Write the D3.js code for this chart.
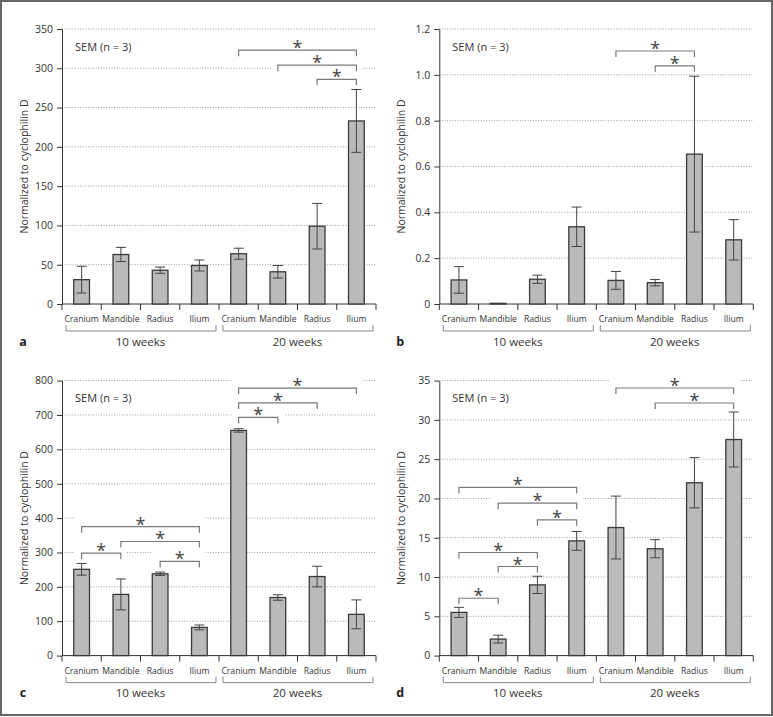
<!DOCTYPE html>
<html>
<head>
<meta charset="utf-8">
<script src="https://cdn.jsdelivr.net/npm/d3@7/dist/d3.min.js"></script>
<style>
  html, body { margin: 0; padding: 0; background: #fff; }
  svg { display: block; font-family: "Open Sans", "Noto Sans", sans-serif; }
</style>
</head>
<body>
<svg id="chart" width="773" height="717"></svg>
<script>
// ---------------- DATA ----------------
const categories = ["Cranium", "Mandible", "Radius", "Ilium", "Cranium", "Mandible", "Radius", "Ilium"];
const groups = ["10 weeks", "20 weeks"];
const panelLetters = ["a", "b", "c", "d"];
const yTitle = "Normalized to cyclophilin D";
const semLabel = "SEM (n = 3)";

// panel a
const meanA = [31, 63, 43, 49, 64, 41, 99, 233];
const errA  = [17, 9, 4, 7, 7, 8, 29, 40];
const ticksA = [0, 50, 100, 150, 200, 250, 300, 350];
const sigA = [[4, 7, 323], [5, 7, 304], [6, 7, 286]];

// panel b
const meanB = [0.105, 0.003, 0.108, 0.337, 0.103, 0.093, 0.654, 0.280];
const errB  = [0.058, 0, 0.018, 0.086, 0.039, 0.014, 0.340, 0.088];
const ticksB = [0, 0.2, 0.4, 0.6, 0.8, 1.0, 1.2];
const sigB = [[4, 6, 1.104], [5, 6, 1.039]];

// panel c
const meanC = [251, 178, 238, 82, 655, 169, 230, 120];
const errC  = [17, 45, 5, 7, 5, 8, 30, 42];
const ticksC = [0, 100, 200, 300, 400, 500, 600, 700, 800];
const sigC = [[4, 7, 778], [4, 6, 735], [4, 5, 693], [0, 3, 375], [1, 3, 332], [0, 1, 298], [2, 3, 274]];

// panel d
const meanD = [5.5, 2.1, 9.0, 14.6, 16.3, 13.6, 22.0, 27.5];
const errD  = [0.64, 0.5, 1.1, 1.2, 4.0, 1.15, 3.2, 3.5];
const ticksD = [0, 5, 10, 15, 20, 25, 30, 35];
const sigD = [[4, 7, 34.06], [5, 7, 32.15], [0, 3, 21.4], [1, 3, 19.4], [2, 3, 17.28], [0, 2, 13.12], [1, 2, 11.34], [0, 1, 7.3]];

const panels = [
  { mean: meanA, err: errA, ticks: ticksA, sig: sigA, fmt: d => String(d) },
  { mean: meanB, err: errB, ticks: ticksB, sig: sigB, fmt: d => d === 0 ? "0" : d3.format(".1f")(d) },
  { mean: meanC, err: errC, ticks: ticksC, sig: sigC, fmt: d => String(d) },
  { mean: meanD, err: errD, ticks: ticksD, sig: sigD, fmt: d => String(d) }
];

// ---------------- LAYOUT ----------------
const svg = d3.select("#chart");
svg.append("rect").attr("x", 0).attr("y", 0).attr("width", 773).attr("height", 717).attr("fill", "#fff");

const colOff = [0, 377.3];
const rowOff = [0, 351.6];

panels.forEach((p, i) => {
  const ox = colOff[i % 2], oy = rowOff[Math.floor(i / 2)];
  const x0 = ox + 62, x1 = ox + 376;
  const yTop = oy + 29, yBot = oy + 304;
  const g = svg.append("g");

  const x = d3.scaleBand().domain(d3.range(categories.length)).range([x0, x1]).paddingInner(0).paddingOuter(0);
  const y = d3.scaleLinear().domain([0, p.ticks[p.ticks.length - 1]]).range([yBot, yTop]);
  const cx = k => x(k) + x.bandwidth() / 2;

  // grid
  g.append("g").selectAll("line").data(p.ticks.filter(t => t !== 0)).join("line")
    .attr("x1", x0).attr("x2", x1)
    .attr("y1", d => y(d)).attr("y2", d => y(d))
    .attr("stroke", "#9a9a9a").attr("stroke-width", 1)
    .attr("stroke-dasharray", "1,1.6");

  // white masks behind significance brackets
  g.append("g").selectAll("rect").data(p.sig).join("rect")
    .attr("x", d => cx(d[0]) - 7)
    .attr("width", d => cx(d[1]) - cx(d[0]) + 13)
    .attr("y", d => y(d[2]) - 13)
    .attr("height", 21)
    .attr("fill", "#fff");

  // y axis
  const yAxis = d3.axisLeft(y).tickValues(p.ticks).tickSize(5).tickSizeOuter(0).tickPadding(4).tickFormat(p.fmt);
  const ya = g.append("g").attr("transform", `translate(${x0},0)`).call(yAxis);
  ya.select(".domain").attr("stroke", "#333").attr("stroke-width", 1);
  ya.selectAll(".tick line").attr("stroke", "#333");
  ya.selectAll(".tick text").attr("fill", "#333").attr("font-size", 10.5).attr("font-family", "Open Sans, sans-serif");

  // x axis line + boundary ticks
  const bounds = d3.range(categories.length).map(k => x(k)).concat([x1]);
  g.append("line").attr("x1", x0).attr("x2", x1).attr("y1", yBot).attr("y2", yBot).attr("stroke", "#333");
  g.append("g").selectAll("line").data(bounds).join("line")
    .attr("x1", d => d).attr("x2", d => d).attr("y1", yBot).attr("y2", yBot + 6)
    .attr("stroke", "#333");

  // category labels
  g.append("g").selectAll("text").data(categories).join("text")
    .attr("x", (d, k) => cx(k)).attr("y", yBot + 15).attr("dy", "0.35em")
    .attr("text-anchor", "middle").attr("font-size", 8.6).attr("fill", "#333")
    .text(d => d);

  // group brackets and labels
  groups.forEach((gl, gi) => {
    const gx0 = x(gi * 4) + 4, gx1 = x(gi * 4 + 3) + x.bandwidth() - 3;
    g.append("path").attr("d", `M${gx0},${yBot + 21}V${yBot + 27}H${gx1}V${yBot + 21}`)
      .attr("fill", "none").attr("stroke", "#888").attr("stroke-width", 1);
    g.append("text").attr("x", (x(gi * 4) + x(gi * 4 + 3) + x.bandwidth()) / 2).attr("y", yBot + 37.5)
      .attr("dy", "0.35em").attr("text-anchor", "middle").attr("font-size", 11.5).attr("fill", "#333").text(gl);
  });

  // panel letter
  g.append("text").attr("x", ox + 23).attr("y", yBot + 37.5).attr("dy", "0.35em")
    .attr("text-anchor", "middle").attr("font-size", 12.5).attr("font-weight", "bold").attr("fill", "#222")
    .text(panelLetters[i]);

  // y title
  g.append("text").attr("transform", `translate(${ox + 24},${(yTop + yBot) / 2}) rotate(-90)`)
    .attr("dy", "0.35em").attr("text-anchor", "middle").attr("font-size", 10.5).attr("fill", "#333").text(yTitle);

  // SEM label
  g.append("text").attr("x", x0 + 13).attr("y", yTop + 18).attr("dy", "0.35em")
    .attr("font-size", 11).attr("fill", "#333").text(semLabel);

  // bars
  const bw = x.bandwidth() * 0.4;
  g.append("g").selectAll("rect").data(p.mean).join("rect")
    .attr("x", (d, k) => cx(k) - bw / 2).attr("width", bw)
    .attr("y", d => y(d)).attr("height", d => yBot - y(d))
    .attr("fill", "#bababa").attr("stroke", "#3a3a3a").attr("stroke-width", 1.3);

  // error bars
  const eb = g.append("g").attr("stroke", "#444").attr("stroke-width", 1);
  p.mean.forEach((m, k) => {
    const e = p.err[k];
    if (!e) return;
    const c = cx(k);
    eb.append("line").attr("x1", c).attr("x2", c).attr("y1", y(m + e)).attr("y2", y(Math.max(0, m - e)));
    eb.append("line").attr("x1", c - 5).attr("x2", c + 5).attr("y1", y(m + e)).attr("y2", y(m + e));
    eb.append("line").attr("x1", c - 5).attr("x2", c + 5).attr("y1", y(m - e)).attr("y2", y(m - e));
  });

  // significance brackets
  p.sig.forEach(s => {
    const a = cx(s[0]), b = cx(s[1]), yy = y(s[2]);
    g.append("path").attr("d", `M${a},${yy + 6}V${yy}H${b}V${yy + 6}`)
      .attr("fill", "none").attr("stroke", "#7a7a7a").attr("stroke-width", 1.2);
    g.append("text").attr("x", (a + b) / 2).attr("y", yy + 4)
      .attr("text-anchor", "middle").attr("font-size", 18).attr("fill", "#444").text("*");
  });
});

// outer frame
svg.append("rect").attr("x", 1).attr("y", 1).attr("width", 771).attr("height", 714)
  .attr("fill", "none").attr("stroke", "#666").attr("stroke-width", 2);
</script>
</body>
</html>
